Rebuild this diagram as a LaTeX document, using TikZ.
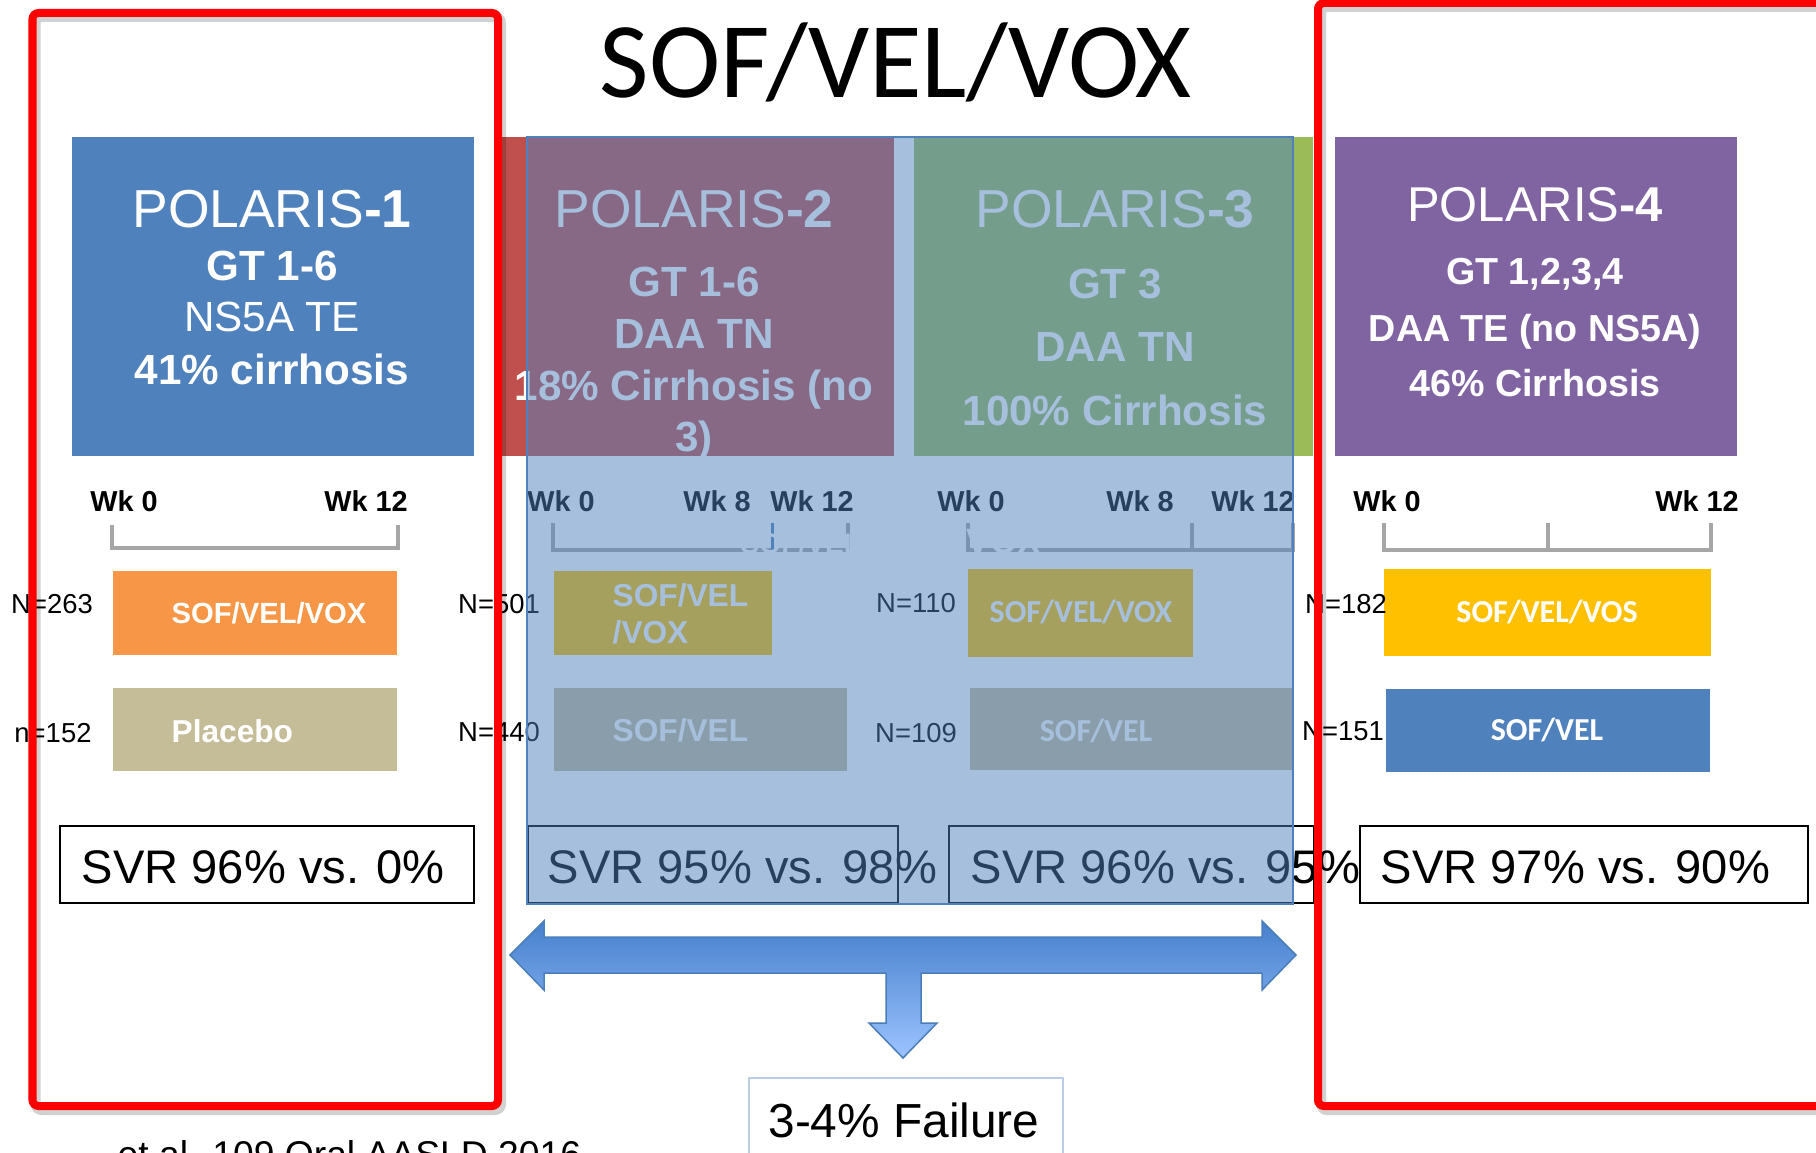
\documentclass[tikz,border=0pt]{standalone}
\usepackage{fontspec}
\setmainfont{Liberation Sans}
\newfontfamily\calfont{Carlito}
\definecolor{pOne}{HTML}{4F81BD}
\definecolor{pTwo}{HTML}{C0504D}
\definecolor{pThree}{HTML}{9BBB59}
\definecolor{pFour}{HTML}{8064A2}
\definecolor{armOrange}{HTML}{F79646}
\definecolor{armTan}{HTML}{C4BD97}
\definecolor{armGold}{HTML}{FFC000}
\definecolor{tickGray}{HTML}{A6A6A6}
\definecolor{failEdge}{HTML}{B9CDE5}
\definecolor{arrTop}{HTML}{4680CC}
\definecolor{arrBot}{HTML}{9CC3FF}
\definecolor{arrEdge}{HTML}{4A7EBB}
\tikzset{
  trial/.style={inner sep=0pt, minimum height=3.19cm},
  armbox/.style={inner sep=0pt},
  svrbox/.style={draw=black, line width=0.015cm, inner sep=0pt, minimum height=0.77cm},
  hdr/.style={text=white, inner sep=0pt, anchor=base, font=\fontsize{15.2}{18}\selectfont},
  hdrfour/.style={text=white, inner sep=0pt, anchor=base, font=\fontsize{13.9}{17}\selectfont},
  sub/.style={text=white, inner sep=0pt, anchor=base, font=\fontsize{12}{14}\selectfont\bfseries},
  subfour/.style={text=white, inner sep=0pt, anchor=base, font=\fontsize{10.7}{13}\selectfont\bfseries},
  wk/.style={inner sep=0pt, anchor=base, font=\fontsize{8.2}{10}\selectfont\bfseries},
  num/.style={inner sep=0pt, anchor=base, font=\fontsize{7.8}{9}\selectfont},
  armtxt/.style={text=white, inner sep=0pt, anchor=base west, font=\fontsize{9}{11}\selectfont\bfseries},
  armcal/.style={text=white, inner sep=0pt, anchor=base, font=\calfont\fontsize{9.1}{11}\selectfont\bfseries},
  svrtxt/.style={inner sep=0pt, anchor=base west, font=\fontsize{13.4}{16}\selectfont},
  bracket/.style={tickGray, line width=0.045cm},
  frame/.style={red, line width=0.08cm, rounded corners=0.06cm},
  frameshadow/.style={black, opacity=0.18, line width=0.1cm, rounded corners=0.06cm}
}
\begin{document}
\begin{tikzpicture}[x=0.01cm,y=-0.01cm]

\fill[white] (0,0) rectangle (1816,1152);
\clip (0,0) rectangle (1816,1152);

\draw (896,98) node(TITLE)[anchor=base, inner sep=0pt, font=\calfont\fontsize{30.6}{36}\selectfont]{SOF/VEL/VOX};

% trial header boxes
\draw (273,296.5) node(P1)[trial, fill=pOne, minimum width=4.02cm]{};
\draw (694,296.5) node(P2)[trial, fill=pTwo, minimum width=4.00cm]{};
\draw (1113.5,296.5) node(P3)[trial, fill=pThree, minimum width=3.99cm]{};
\draw (1536,296.5) node(P4)[trial, fill=pFour, minimum width=4.02cm]{};

\draw (272,228) node(P1A)[hdr]{POLARIS{\bfseries-1}};
\draw (272,281) node(P1B)[sub]{GT 1-6};
\draw (272,331) node(P1C)[sub, font=\fontsize{12}{14}\selectfont]{NS5A TE};
\draw (272,384) node(P1D)[sub]{41\% cirrhosis};

\draw (694,228) node(P2A)[hdr]{POLARIS{\bfseries-2}};
\draw (694,297) node(P2B)[sub]{GT 1-6};
\draw (694,348) node(P2C)[sub]{DAA TN};
\draw (694,400) node(P2D)[sub]{18\% Cirrhosis (no};
\draw (694,451) node(P2E)[sub]{3)};

\draw (1115,228) node(P3A)[hdr]{POLARIS{\bfseries-3}};
\draw (1115,298) node(P3B)[sub]{GT 3};
\draw (1115,361) node(P3C)[sub]{DAA TN};
\draw (1115,425) node(P3D)[sub]{100\% Cirrhosis};

\draw (1535,222) node(P4A)[hdrfour]{POLARIS{\bfseries-4}};
\draw (1535,284.5) node(P4B)[subfour]{GT 1,2,3,4};
\draw (1535,341.5) node(P4C)[subfour]{DAA TE (no NS5A)};
\draw (1535,396.5) node(P4D)[subfour]{46\% Cirrhosis};

% week brackets
\draw[bracket] (112,525) -- (112,548) -- (398,548) -- (398,525);
\draw[bracket] (553,523) -- (553,550) -- (848,550) -- (848,523);
\draw[bracket] (968,523) -- (968,550) -- (1293,550) -- (1293,523);
\draw[bracket] (1192,523) -- (1192,550);
\draw[bracket] (1384,523) -- (1384,550) -- (1711,550) -- (1711,523);
\draw[bracket] (1548,523) -- (1548,550);
\draw[pOne, line width=0.03cm] (772,523) -- (772,552);
\draw (740,553) node(HID2)[armtxt, font=\fontsize{8}{10}\selectfont\bfseries]{SOF/VEL};
\draw (966,553) node(HID3)[armtxt, font=\fontsize{10}{12}\selectfont\bfseries]{VOX};

\draw (124,511) node(W10)[wk]{Wk 0};
\draw (366,511) node(W112)[wk]{Wk 12};
\draw (561,511) node(W20)[wk]{Wk 0};
\draw (717,511) node(W28)[wk]{Wk 8};
\draw (812,511) node(W212)[wk]{Wk 12};
\draw (971,511) node(W30)[wk]{Wk 0};
\draw (1140,511) node(W38)[wk]{Wk 8};
\draw (1253,511) node(W312)[wk]{Wk 12};
\draw (1387,511) node(W40)[wk]{Wk 0};
\draw (1697,511) node(W412)[wk]{Wk 12};

% treatment arms
\draw (255,613) node(ARM1A)[armbox, fill=armOrange, minimum width=2.84cm, minimum height=0.84cm]{};
\draw (255,729.5) node(ARM1B)[armbox, fill=armTan, minimum width=2.84cm, minimum height=0.83cm]{};
\draw (663,613) node(ARM2A)[armbox, fill=armGold, minimum width=2.18cm, minimum height=0.84cm]{};
\draw (700.5,729.5) node(ARM2B)[armbox, fill=armTan, minimum width=2.93cm, minimum height=0.83cm]{};
\draw (1080.5,613) node(ARM3A)[armbox, fill=armGold, minimum width=2.25cm, minimum height=0.88cm]{};
\draw (1131.5,729) node(ARM3B)[armbox, fill=armTan, minimum width=3.23cm, minimum height=0.82cm]{};
\draw (1547.5,612.5) node(ARM4A)[armbox, fill=armGold, minimum width=3.27cm, minimum height=0.87cm]{};
\draw (1548,730.5) node(ARM4B)[armbox, fill=pOne, minimum width=3.24cm, minimum height=0.83cm]{};

\draw (171,623) node(L1A)[armtxt, font=\fontsize{8.3}{10}\selectfont\bfseries]{SOF/VEL/VOX};
\draw (171,742) node(L1B)[armtxt]{Placebo};
\draw (612,606) node(L2A)[armtxt]{SOF/VEL};
\draw (612,643) node(L2AA)[armtxt]{/VOX};
\draw (612,741) node(L2B)[armtxt]{SOF/VEL};
\draw (1081,622) node(L3A)[armcal]{SOF/VEL/VOX};
\draw (1096,741) node(L3B)[armcal]{SOF/VEL};
\draw (1547,622) node(L4A)[armcal]{SOF/VEL/VOS};
\draw (1547,740) node(L4B)[armcal]{SOF/VEL};

\draw (52,613) node(N1A)[num]{N=263};
\draw (53,742) node(N1B)[num]{n=152};
\draw (499,613) node(N2A)[num]{N=501};
\draw (499,741) node(N2B)[num]{N=440};
\draw (916,612) node(N3A)[num]{N=110};
\draw (916,742) node(N3B)[num]{N=109};
\draw (1346,613) node(N4A)[num]{N=182};
\draw (1343,740) node(N4B)[num]{N=151};

% results
\draw (267,864.5) node(SVR1)[svrbox, minimum width=4.14cm]{};
\draw (713,864.5) node(SVR2)[svrbox, minimum width=3.70cm]{};
\draw (1131.5,864.5) node(SVR3)[svrbox, minimum width=3.65cm]{};
\draw (1584,864.5) node(SVR4)[svrbox, minimum width=4.48cm]{};
\draw (81,883) node(R1)[svrtxt]{SVR 96\% vs. 0\%};
\draw (547,883) node(R2)[svrtxt]{SVR 95\% vs. 98\%};
\draw (970,883) node(R3)[svrtxt]{SVR 96\% vs. 95\%};
\draw (1380,883) node(R4)[svrtxt]{SVR 97\% vs. 90\%};

% translucent cover over POLARIS-2 and -3
\draw (910,520.5) node(COVER)[draw=pOne, fill=pOne, fill opacity=0.5, line width=0.015cm, minimum width=7.66cm, minimum height=7.67cm]{};

% pooled arrow
\shadedraw[top color=arrTop, bottom color=arrBot, draw=arrEdge, line width=0.015cm]
  (510,955) -- (544,921) -- (544,937) -- (1262,937) -- (1262,921) -- (1296,955)
  -- (1262,990) -- (1262,973) -- (921,973) -- (921,1023) -- (937,1023) -- (903,1058)
  -- (869,1023) -- (886,1023) -- (886,973) -- (544,973) -- (544,990) -- cycle;

\draw (906,1121.5) node(FAIL)[draw=failEdge, line width=0.015cm, minimum width=3.14cm, minimum height=0.87cm]{};
\draw (904,1137) node(FAILT)[svrtxt, font=\fontsize{13.6}{16}\selectfont, anchor=base]{3-4\% Failure};

\draw (117,1167) node(CITE)[inner sep=0pt, anchor=base west, font=\fontsize{10.6}{12}\selectfont]{et al. 109 Oral AASLD 2016};

% highlight frames
\draw[frameshadow] (35.5,17) rectangle (501,1110);
\draw[frameshadow] (1321,7) rectangle (1843,1110);
\draw[frame] (32.5,13) rectangle (498,1106);
\draw[frame] (1318,3) rectangle (1840,1106);

\end{tikzpicture}
\end{document}
